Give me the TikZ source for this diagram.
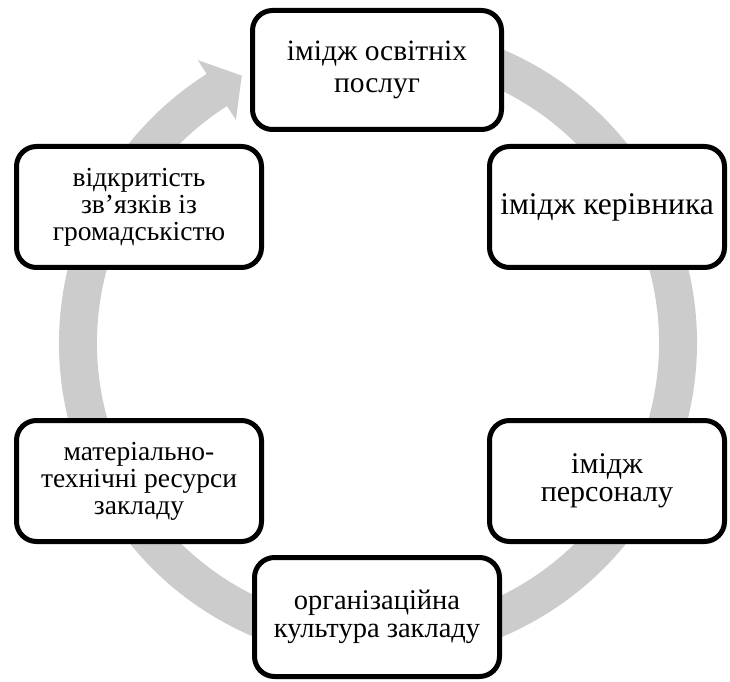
\documentclass[tikz,border=0pt]{standalone}
\usepackage{fontspec}
\setmainfont{Liberation Serif}

\begin{document}
\begin{tikzpicture}[
    x=1pt, y=1pt,
    stage/.style={
        draw,
        line width=5pt,
        rounded corners=20pt,
        fill=white,
        align=center,
        inner sep=0pt,
        minimum width=245pt,
        minimum height=121pt,
        font=\fontsize{27.5}{27}\selectfont,
    },
    ring/.style={
        fill=black!20,
        draw=none,
    }
]
    \useasboundingbox (0,0) rectangle (730,681);

    % Cycle arrow
    \coordinate (centre) at (378,338);
    \fill[ring, shift={(centre)}]
        (80:281) arc[start angle=80, end angle=-237.5, radius=281]
        -- (122.5:264.5) -- (117:300) -- (122.5:335.5) -- (122.5:319)
        arc[start angle=-237.5, end angle=80, radius=319] -- cycle;

    % Stages
    \node[stage, minimum width=249pt, minimum height=119pt, font=\fontsize{29.5}{32}\selectfont] (services) at (377,611) {імідж освітніх\\послуг};
    \node[stage, minimum width=235pt, font=\fontsize{31.5}{33}\selectfont] (head) at (607,474) {імідж керівника};
    \node[stage, minimum width=235pt, font=\fontsize{30}{28.5}\selectfont] (staff) at (607,200) {імідж\\персоналу};
    \node[stage, minimum height=119pt, font=\fontsize{28.5}{28.5}\selectfont] (culture) at (377,64) {організаційна\\культура закладу};
    \node[stage] (resources) at (139,200) {матеріально-\\технічні ресурси\\закладу};
    \node[stage] (openness) at (139,474) {відкритість\\зв’язків із\\громадськістю};
\end{tikzpicture}
\end{document}
